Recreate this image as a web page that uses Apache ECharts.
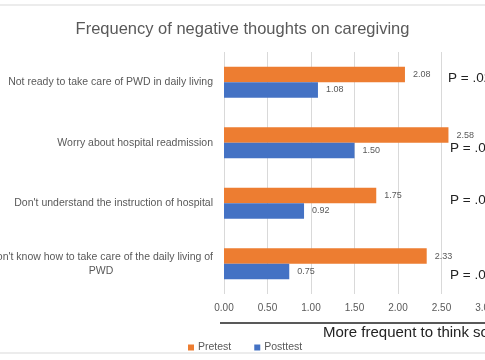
<!DOCTYPE html>
<html>
<head>
<meta charset="utf-8">
<script src="https://cdn.jsdelivr.net/npm/echarts@6/dist/echarts.min.js"></script>
<style>
html,body{margin:0;padding:0;background:#fff;}
#c{width:485px;height:360px;}
</style>
</head>
<body>
<div id="c"></div>
<script>
var titleText = "Frequency of negative thoughts on caregiving";
var categories = [
  "Not ready to take care of PWD in daily living",
  "Worry about hospital readmission",
  "Don't understand the instruction of hospital",
  "Don't know how to take care of the daily living of\nPWD"
];
var pretest = [2.08, 2.58, 1.75, 2.33];
var posttest = [1.08, 1.50, 0.92, 0.75];
var pValues = ["P = .02", "P = .00", "P = .00", "P = .00"];
var seriesNames = ["Pretest", "Posttest"];
var xTicks = {min: 0, max: 3, interval: 0.5};
var axisNote = "More frequent to think so";

var FONT = "Liberation Sans";
var chart = echarts.init(document.getElementById('c'), null, {renderer: 'canvas'});

var gridTop = 52, gridBottomY = 294;
var bandH = (gridBottomY - gridTop) / categories.length;
var pOffsets = [-2, 8, -1, 14];
var pGraphics = pValues.map(function (t, i) {
  return {
    type: 'text',
    left: i === 0 ? 448 : 450,
    top: gridTop + bandH * (i + 0.5) + pOffsets[i] - 9,
    style: {text: t, font: '13.5px "' + FONT + '"', fill: '#222'}
  };
});

var option = {
  animation: false,
  backgroundColor: '#fff',
  textStyle: {fontFamily: FONT},
  title: {
    text: titleText, left: 'center', top: 16,
    textStyle: {fontSize: 16.5, fontWeight: 'normal', color: '#595959', fontFamily: FONT}
  },
  legend: {
    data: seriesNames, left: 183, top: 337,
    itemWidth: 6, itemHeight: 6, itemGap: 23, icon: 'rect',
    textStyle: {fontSize: 10.5, color: '#595959', padding: [0, 0, 0, -1]}
  },
  grid: {left: 224, right: 0, top: gridTop, height: gridBottomY - gridTop, containLabel: false, outerBoundsMode: 'none'},
  xAxis: {
    type: 'value', min: xTicks.min, max: xTicks.max, interval: xTicks.interval,
    axisLine: {show: false}, axisTick: {show: false},
    axisLabel: {fontSize: 10, color: '#595959', margin: 9, formatter: function (v) { return v.toFixed(2); }},
    splitLine: {lineStyle: {color: '#d9d9d9', width: 1}}
  },
  yAxis: {
    type: 'category', data: categories, inverse: true,
    axisLine: {show: false}, axisTick: {show: false},
    axisLabel: {
      margin: 11, color: '#595959', fontSize: 10.5, lineHeight: 14,
      formatter: function (v) {
        return v.split('\n').map(function (s) { return '{c|' + s + '}'; }).join('\n');
      },
      rich: {c: {align: 'center', fontSize: 10.5, color: '#595959', lineHeight: 14}}
    }
  },
  series: [
    {
      name: seriesNames[0], type: 'bar', data: pretest, barGap: '0%', barCategoryGap: '49%',
      itemStyle: {color: '#ED7D31'},
      label: {show: true, position: 'right', distance: 8, fontSize: 9, color: '#595959',
        formatter: function (p) { return p.value.toFixed(2); }}
    },
    {
      name: seriesNames[1], type: 'bar', data: posttest, barGap: '0%', barCategoryGap: '49%',
      itemStyle: {color: '#4472C4'},
      label: {show: true, position: 'right', distance: 8, fontSize: 9, color: '#595959',
        formatter: function (p) { return p.value.toFixed(2); }}
    }
  ],
  graphic: [
    {type: 'line', shape: {x1: 0, y1: 5, x2: 485, y2: 5}, style: {stroke: '#d9d9d9', lineWidth: 1}},
    {type: 'line', shape: {x1: 0, y1: 353, x2: 485, y2: 353}, style: {stroke: '#d9d9d9', lineWidth: 1}},
    {type: 'line', shape: {x1: 220, y1: 323, x2: 485, y2: 323}, style: {stroke: '#222', lineWidth: 1.5}},
    {type: 'text', left: 323, top: 325, style: {text: axisNote, font: '15px "' + FONT + '"', fill: '#222'}}
  ].concat(pGraphics)
};
chart.setOption(option);
</script>
</body>
</html>
